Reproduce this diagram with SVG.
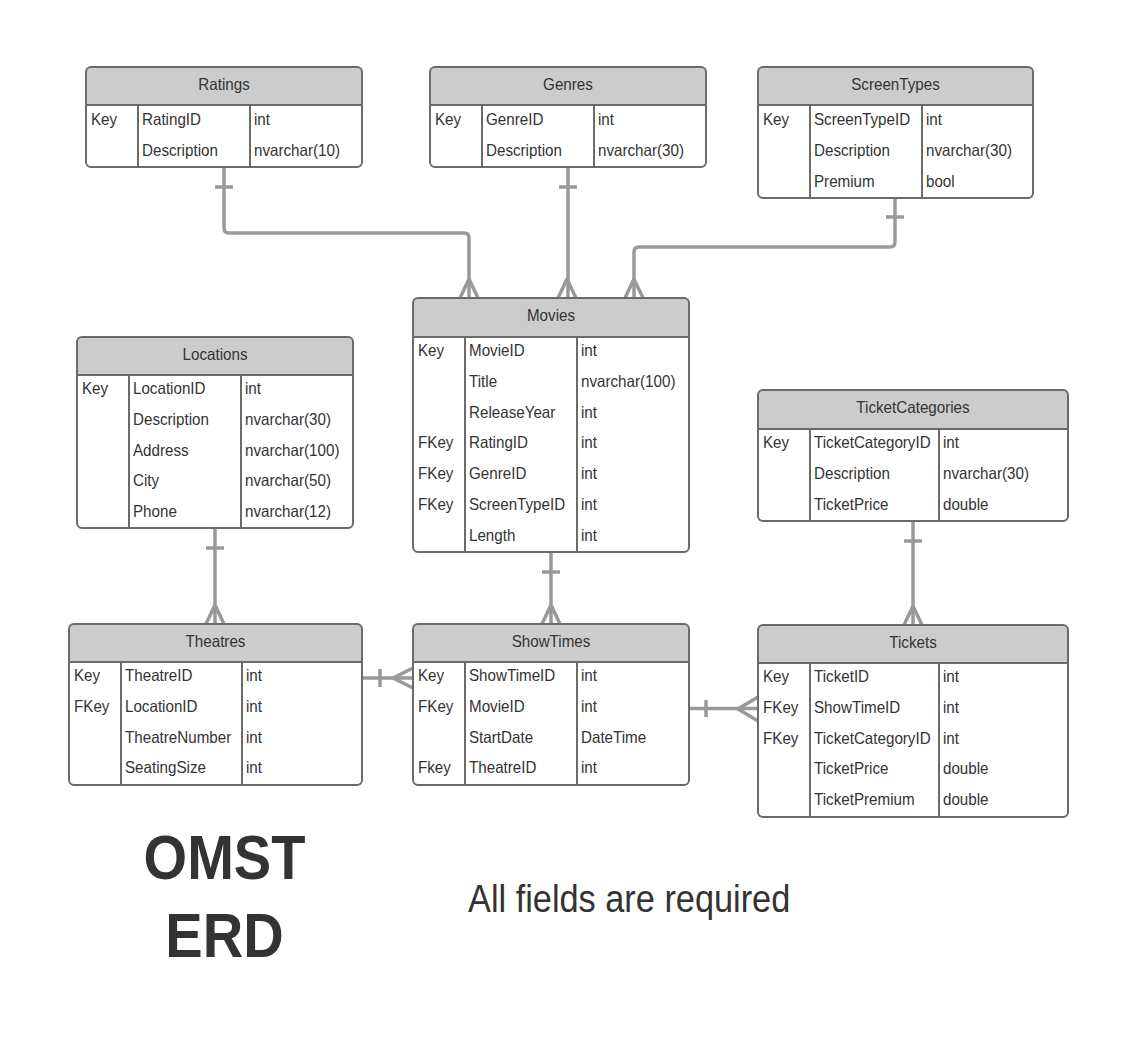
<svg xmlns="http://www.w3.org/2000/svg" width="1137" height="1053" viewBox="0 0 1137 1053">
<defs>
<style>
.hd{fill:#cccccc;stroke:none}
.fr{fill:none;stroke:#6b6b6b;stroke-width:2}
.ln{stroke:#6b6b6b;stroke-width:2}
.t{font-family:"Liberation Sans",Arial,sans-serif;font-size:16.5px;fill:#333333}
.c{text-anchor:middle}
.conn{fill:none;stroke:#999999;stroke-width:3.5;stroke-linejoin:round}
.big{font-family:"Liberation Sans",Arial,sans-serif;font-size:63px;font-weight:bold;fill:#333333;text-anchor:middle}
.note{font-family:"Liberation Sans",Arial,sans-serif;font-size:39px;fill:#333333}
</style>
</defs>
<rect width="1137" height="1053" fill="#ffffff"/>

<g id="connectors">
<path class="conn" d="M224,167 V228 Q224,233 229,233 H464 Q469,233 469,238 V298"/>
<path class="conn" d="M215,187 H233"/>
<path class="conn" d="M460,298 L469,279 L478,298"/>
<path class="conn" d="M568,167 V298"/>
<path class="conn" d="M559,187 H577"/>
<path class="conn" d="M558,298 L567,279 L576,298"/>
<path class="conn" d="M895,198 V242 Q895,247 890,247 H639 Q634,247 634,252 V298"/>
<path class="conn" d="M886,217 H904"/>
<path class="conn" d="M625,298 L634,279 L643,298"/>
<path class="conn" d="M215,528 V624"/>
<path class="conn" d="M206,548 H224"/>
<path class="conn" d="M206,624 L215,605 L224,624"/>
<path class="conn" d="M551,552 V624"/>
<path class="conn" d="M542,572 H560"/>
<path class="conn" d="M542,624 L551,605 L560,624"/>
<path class="conn" d="M913,521 V625"/>
<path class="conn" d="M904,541 H922"/>
<path class="conn" d="M904,625 L913,606 L922,625"/>
<path class="conn" d="M362,678 H413"/>
<path class="conn" d="M380,669 V687"/>
<path class="conn" d="M413,668 L393,678 L413,688"/>
<path class="conn" d="M689,708.5 H758"/>
<path class="conn" d="M706,700 V717"/>
<path class="conn" d="M758,697 L738,709 L758,721"/>
</g>

<g id="ratings">
<rect x="86" y="67" width="276" height="100" rx="5" fill="#ffffff"/>
<path class="hd" d="M86,105 V72 A5,5 0 0 1 91,67 H357 A5,5 0 0 1 362,72 V105 Z"/>
<rect class="fr" x="86" y="67" width="276" height="100" rx="5"/>
<path class="ln" d="M86,105 H362 M138,105 V167 M250,105 V167"/>
<text class="t c" transform="matrix(.92 0 0 1 224 90)">Ratings</text>
<text class="t" transform="matrix(.92 0 0 1 91 125)">Key</text>
<text class="t" transform="matrix(.92 0 0 1 142 125)">RatingID</text>
<text class="t" transform="matrix(.92 0 0 1 254 125)">int</text>
<text class="t" transform="matrix(.92 0 0 1 142 155.75)">Description</text>
<text class="t" transform="matrix(.92 0 0 1 254 155.75)">nvarchar(10)</text>
</g>

<g id="genres">
<rect x="430" y="67" width="276" height="100" rx="5" fill="#ffffff"/>
<path class="hd" d="M430,105 V72 A5,5 0 0 1 435,67 H701 A5,5 0 0 1 706,72 V105 Z"/>
<rect class="fr" x="430" y="67" width="276" height="100" rx="5"/>
<path class="ln" d="M430,105 H706 M482,105 V167 M594,105 V167"/>
<text class="t c" transform="matrix(.92 0 0 1 568 90)">Genres</text>
<text class="t" transform="matrix(.92 0 0 1 435 125)">Key</text>
<text class="t" transform="matrix(.92 0 0 1 486 125)">GenreID</text>
<text class="t" transform="matrix(.92 0 0 1 598 125)">int</text>
<text class="t" transform="matrix(.92 0 0 1 486 155.75)">Description</text>
<text class="t" transform="matrix(.92 0 0 1 598 155.75)">nvarchar(30)</text>
</g>

<g id="screentypes">
<rect x="758" y="67" width="275" height="131" rx="5" fill="#ffffff"/>
<path class="hd" d="M758,105 V72 A5,5 0 0 1 763,67 H1028 A5,5 0 0 1 1033,72 V105 Z"/>
<rect class="fr" x="758" y="67" width="275" height="131" rx="5"/>
<path class="ln" d="M758,105 H1033 M810,105 V198 M922,105 V198"/>
<text class="t c" transform="matrix(.92 0 0 1 895.5 90)">ScreenTypes</text>
<text class="t" transform="matrix(.92 0 0 1 763 125)">Key</text>
<text class="t" transform="matrix(.92 0 0 1 814 125)">ScreenTypeID</text>
<text class="t" transform="matrix(.92 0 0 1 926 125)">int</text>
<text class="t" transform="matrix(.92 0 0 1 814 155.75)">Description</text>
<text class="t" transform="matrix(.92 0 0 1 926 155.75)">nvarchar(30)</text>
<text class="t" transform="matrix(.92 0 0 1 814 186.5)">Premium</text>
<text class="t" transform="matrix(.92 0 0 1 926 186.5)">bool</text>
</g>

<g id="movies">
<rect x="413" y="298" width="276" height="254" rx="5" fill="#ffffff"/>
<path class="hd" d="M413,337 V303 A5,5 0 0 1 418,298 H684 A5,5 0 0 1 689,303 V337 Z"/>
<rect class="fr" x="413" y="298" width="276" height="254" rx="5"/>
<path class="ln" d="M413,337 H689 M465,337 V552 M577,337 V552"/>
<text class="t c" transform="matrix(.92 0 0 1 551 321)">Movies</text>
<text class="t" transform="matrix(.92 0 0 1 418 356)">Key</text>
<text class="t" transform="matrix(.92 0 0 1 469 356)">MovieID</text>
<text class="t" transform="matrix(.92 0 0 1 581 356)">int</text>
<text class="t" transform="matrix(.92 0 0 1 469 386.75)">Title</text>
<text class="t" transform="matrix(.92 0 0 1 581 386.75)">nvarchar(100)</text>
<text class="t" transform="matrix(.92 0 0 1 469 417.5)">ReleaseYear</text>
<text class="t" transform="matrix(.92 0 0 1 581 417.5)">int</text>
<text class="t" transform="matrix(.92 0 0 1 418 448.25)">FKey</text>
<text class="t" transform="matrix(.92 0 0 1 469 448.25)">RatingID</text>
<text class="t" transform="matrix(.92 0 0 1 581 448.25)">int</text>
<text class="t" transform="matrix(.92 0 0 1 418 479)">FKey</text>
<text class="t" transform="matrix(.92 0 0 1 469 479)">GenreID</text>
<text class="t" transform="matrix(.92 0 0 1 581 479)">int</text>
<text class="t" transform="matrix(.92 0 0 1 418 509.75)">FKey</text>
<text class="t" transform="matrix(.92 0 0 1 469 509.75)">ScreenTypeID</text>
<text class="t" transform="matrix(.92 0 0 1 581 509.75)">int</text>
<text class="t" transform="matrix(.92 0 0 1 469 540.5)">Length</text>
<text class="t" transform="matrix(.92 0 0 1 581 540.5)">int</text>
</g>

<g id="locations">
<rect x="77" y="337" width="276" height="191" rx="5" fill="#ffffff"/>
<path class="hd" d="M77,375 V342 A5,5 0 0 1 82,337 H348 A5,5 0 0 1 353,342 V375 Z"/>
<rect class="fr" x="77" y="337" width="276" height="191" rx="5"/>
<path class="ln" d="M77,375 H353 M129,375 V528 M241,375 V528"/>
<text class="t c" transform="matrix(.92 0 0 1 215 360)">Locations</text>
<text class="t" transform="matrix(.92 0 0 1 82 394)">Key</text>
<text class="t" transform="matrix(.92 0 0 1 133 394)">LocationID</text>
<text class="t" transform="matrix(.92 0 0 1 245 394)">int</text>
<text class="t" transform="matrix(.92 0 0 1 133 424.75)">Description</text>
<text class="t" transform="matrix(.92 0 0 1 245 424.75)">nvarchar(30)</text>
<text class="t" transform="matrix(.92 0 0 1 133 455.5)">Address</text>
<text class="t" transform="matrix(.92 0 0 1 245 455.5)">nvarchar(100)</text>
<text class="t" transform="matrix(.92 0 0 1 133 486.25)">City</text>
<text class="t" transform="matrix(.92 0 0 1 245 486.25)">nvarchar(50)</text>
<text class="t" transform="matrix(.92 0 0 1 133 517)">Phone</text>
<text class="t" transform="matrix(.92 0 0 1 245 517)">nvarchar(12)</text>
</g>

<g id="ticketcategories">
<rect x="758" y="390" width="310" height="131" rx="5" fill="#ffffff"/>
<path class="hd" d="M758,429 V395 A5,5 0 0 1 763,390 H1063 A5,5 0 0 1 1068,395 V429 Z"/>
<rect class="fr" x="758" y="390" width="310" height="131" rx="5"/>
<path class="ln" d="M758,429 H1068 M810,429 V521 M939,429 V521"/>
<text class="t c" transform="matrix(.92 0 0 1 913 413)">TicketCategories</text>
<text class="t" transform="matrix(.92 0 0 1 763 448)">Key</text>
<text class="t" transform="matrix(.92 0 0 1 814 448)">TicketCategoryID</text>
<text class="t" transform="matrix(.92 0 0 1 943 448)">int</text>
<text class="t" transform="matrix(.92 0 0 1 814 478.75)">Description</text>
<text class="t" transform="matrix(.92 0 0 1 943 478.75)">nvarchar(30)</text>
<text class="t" transform="matrix(.92 0 0 1 814 509.5)">TicketPrice</text>
<text class="t" transform="matrix(.92 0 0 1 943 509.5)">double</text>
</g>

<g id="theatres">
<rect x="69" y="624" width="293" height="161" rx="5" fill="#ffffff"/>
<path class="hd" d="M69,662 V629 A5,5 0 0 1 74,624 H357 A5,5 0 0 1 362,629 V662 Z"/>
<rect class="fr" x="69" y="624" width="293" height="161" rx="5"/>
<path class="ln" d="M69,662 H362 M121,662 V785 M242,662 V785"/>
<text class="t c" transform="matrix(.92 0 0 1 215.5 647)">Theatres</text>
<text class="t" transform="matrix(.92 0 0 1 74 681)">Key</text>
<text class="t" transform="matrix(.92 0 0 1 125 681)">TheatreID</text>
<text class="t" transform="matrix(.92 0 0 1 246 681)">int</text>
<text class="t" transform="matrix(.92 0 0 1 74 711.75)">FKey</text>
<text class="t" transform="matrix(.92 0 0 1 125 711.75)">LocationID</text>
<text class="t" transform="matrix(.92 0 0 1 246 711.75)">int</text>
<text class="t" transform="matrix(.92 0 0 1 125 742.5)">TheatreNumber</text>
<text class="t" transform="matrix(.92 0 0 1 246 742.5)">int</text>
<text class="t" transform="matrix(.92 0 0 1 125 773.25)">SeatingSize</text>
<text class="t" transform="matrix(.92 0 0 1 246 773.25)">int</text>
</g>

<g id="showtimes">
<rect x="413" y="624" width="276" height="161" rx="5" fill="#ffffff"/>
<path class="hd" d="M413,662 V629 A5,5 0 0 1 418,624 H684 A5,5 0 0 1 689,629 V662 Z"/>
<rect class="fr" x="413" y="624" width="276" height="161" rx="5"/>
<path class="ln" d="M413,662 H689 M465,662 V785 M577,662 V785"/>
<text class="t c" transform="matrix(.92 0 0 1 551 647)">ShowTimes</text>
<text class="t" transform="matrix(.92 0 0 1 418 681)">Key</text>
<text class="t" transform="matrix(.92 0 0 1 469 681)">ShowTimeID</text>
<text class="t" transform="matrix(.92 0 0 1 581 681)">int</text>
<text class="t" transform="matrix(.92 0 0 1 418 711.75)">FKey</text>
<text class="t" transform="matrix(.92 0 0 1 469 711.75)">MovieID</text>
<text class="t" transform="matrix(.92 0 0 1 581 711.75)">int</text>
<text class="t" transform="matrix(.92 0 0 1 469 742.5)">StartDate</text>
<text class="t" transform="matrix(.92 0 0 1 581 742.5)">DateTime</text>
<text class="t" transform="matrix(.92 0 0 1 418 773.25)">Fkey</text>
<text class="t" transform="matrix(.92 0 0 1 469 773.25)">TheatreID</text>
<text class="t" transform="matrix(.92 0 0 1 581 773.25)">int</text>
</g>

<g id="tickets">
<rect x="758" y="625" width="310" height="192" rx="5" fill="#ffffff"/>
<path class="hd" d="M758,663 V630 A5,5 0 0 1 763,625 H1063 A5,5 0 0 1 1068,630 V663 Z"/>
<rect class="fr" x="758" y="625" width="310" height="192" rx="5"/>
<path class="ln" d="M758,663 H1068 M810,663 V817 M939,663 V817"/>
<text class="t c" transform="matrix(.92 0 0 1 913 648)">Tickets</text>
<text class="t" transform="matrix(.92 0 0 1 763 682)">Key</text>
<text class="t" transform="matrix(.92 0 0 1 814 682)">TicketID</text>
<text class="t" transform="matrix(.92 0 0 1 943 682)">int</text>
<text class="t" transform="matrix(.92 0 0 1 763 712.75)">FKey</text>
<text class="t" transform="matrix(.92 0 0 1 814 712.75)">ShowTimeID</text>
<text class="t" transform="matrix(.92 0 0 1 943 712.75)">int</text>
<text class="t" transform="matrix(.92 0 0 1 763 743.5)">FKey</text>
<text class="t" transform="matrix(.92 0 0 1 814 743.5)">TicketCategoryID</text>
<text class="t" transform="matrix(.92 0 0 1 943 743.5)">int</text>
<text class="t" transform="matrix(.92 0 0 1 814 774.25)">TicketPrice</text>
<text class="t" transform="matrix(.92 0 0 1 943 774.25)">double</text>
<text class="t" transform="matrix(.92 0 0 1 814 805)">TicketPremium</text>
<text class="t" transform="matrix(.92 0 0 1 943 805)">double</text>
</g>

<g id="title">
<text class="big" transform="matrix(.89 0 0 1 224.5 879)">OMST</text>
<text class="big" transform="matrix(.89 0 0 1 224.5 957)">ERD</text>
</g>
<g id="note">
<text class="note" transform="matrix(.88 0 0 1 468 912)">All fields are required</text>
</g>
</svg>
